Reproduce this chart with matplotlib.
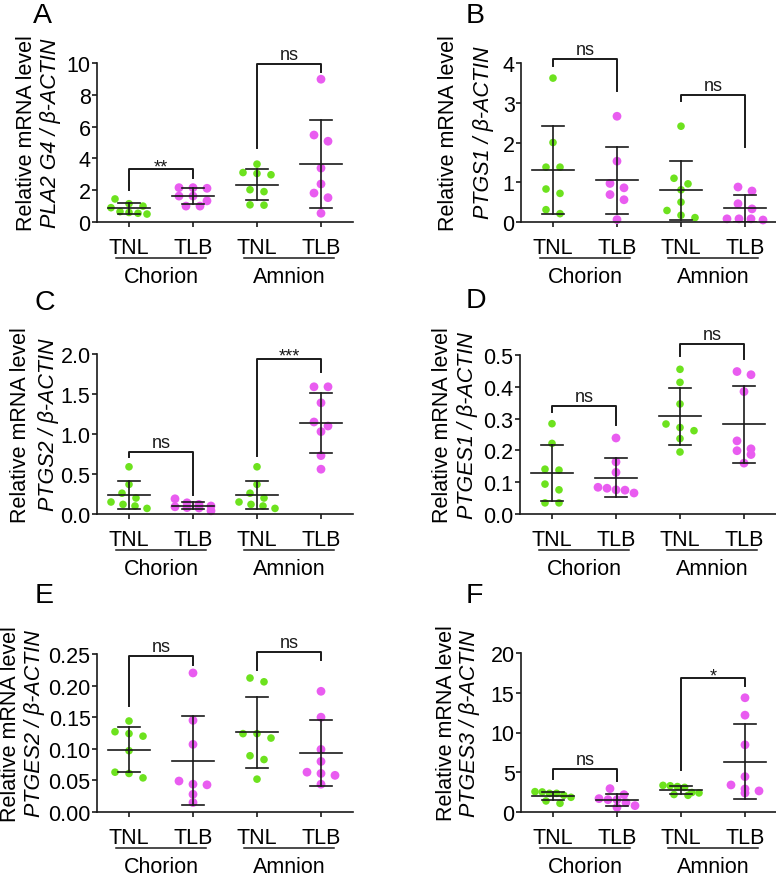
import numpy as np
import matplotlib.pyplot as plt
from matplotlib.ticker import FormatStrFormatter

plt.rcParams['font.family'] = ['Liberation Sans', 'DejaVu Sans']

# categories
groups = ['TNL', 'TLB', 'TNL', 'TLB']
tissues = ['Chorion', 'Amnion']

# A  PLA2G4
pla2g4_ch_tnl = [1.45, 1.15, 1.0, 0.9, 0.65, 0.6, 0.55, 0.5]
pla2g4_ch_tlb = [2.16, 2.16, 2.12, 1.63, 1.63, 1.33, 1.0, 1.0]
pla2g4_am_tnl = [3.64, 3.11, 3.05, 2.97, 2.03, 1.91, 1.08, 1.06]
pla2g4_am_tlb = [8.98, 5.47, 5.08, 3.39, 2.39, 1.82, 1.53, 0.55]

# B  PTGS1
ptgs1_ch_tnl = [3.62, 2.0, 1.38, 1.38, 0.83, 0.72, 0.31, 0.21]
ptgs1_ch_tlb = [2.66, 1.53, 0.97, 0.86, 0.69, 0.56, 0.06]
ptgs1_am_tnl = [2.41, 1.10, 0.96, 0.81, 0.50, 0.29, 0.17, 0.11]
ptgs1_am_tlb = [0.88, 0.78, 0.46, 0.33, 0.08, 0.08, 0.08, 0.05]

# C  PTGS2
ptgs2_ch_tnl = [0.59, 0.37, 0.26, 0.20, 0.15, 0.12, 0.10, 0.07]
ptgs2_ch_tlb = [0.19, 0.14, 0.12, 0.10, 0.09, 0.08, 0.075, 0.04]
ptgs2_am_tnl = [0.59, 0.37, 0.26, 0.20, 0.15, 0.12, 0.10, 0.07]
ptgs2_am_tlb = [1.59, 1.59, 1.39, 1.15, 1.10, 1.03, 0.73, 0.56]

# D  PTGES1
ptges1_ch_tnl = [0.284, 0.222, 0.141, 0.138, 0.094, 0.076, 0.035, 0.035]
ptges1_ch_tlb = [0.239, 0.164, 0.131, 0.084, 0.081, 0.076, 0.075, 0.066]
ptges1_am_tnl = [0.455, 0.414, 0.346, 0.283, 0.272, 0.262, 0.237, 0.195]
ptges1_am_tlb = [0.448, 0.438, 0.385, 0.230, 0.205, 0.199, 0.187, 0.160]

# E  PTGES2
ptges2_ch_tnl = [0.144, 0.127, 0.124, 0.120, 0.097, 0.063, 0.061, 0.054]
ptges2_ch_tlb = [0.220, 0.145, 0.107, 0.049, 0.044, 0.043, 0.028, 0.015]
ptges2_am_tnl = [0.212, 0.206, 0.124, 0.124, 0.117, 0.089, 0.083, 0.052]
ptges2_am_tlb = [0.191, 0.150, 0.099, 0.080, 0.063, 0.061, 0.058, 0.044]

# F  PTGES3
ptges3_ch_tnl = [2.56, 2.52, 2.35, 2.35, 2.10, 1.85, 1.39, 1.09]
ptges3_ch_tlb = [2.94, 2.18, 1.68, 1.55, 1.55, 1.18, 0.80, 0.59]
ptges3_am_tnl = [3.35, 3.30, 3.20, 3.10, 2.45, 2.40, 2.20, 2.10]
ptges3_am_tlb = [14.37, 12.18, 8.45, 4.45, 3.40, 2.90, 2.65, 2.39]

genes = ['PLA2 G4', 'PTGS1', 'PTGS2', 'PTGES1', 'PTGES2', 'PTGES3']
letters = ['A', 'B', 'C', 'D', 'E', 'F']
ymaxes = [10, 4, 2.0, 0.5, 0.25, 20]
ysteps = [2, 1, 0.5, 0.1, 0.05, 5]
yfmts = ['%d', '%d', '%.1f', '%.1f', '%.2f', '%d']

# significance brackets: (x1, x2, top, left leg end, right leg end, label)
brackets = [
    [(0, 1, 3.33, 2.0, 2.75, '**'), (2, 3, 9.96, 4.66, 9.43, 'ns')],
    [(0, 1, 4.1, 3.93, 3.29, 'ns'), (2, 3, 3.19, 3.04, 1.89, 'ns')],
    [(0, 1, 0.78, 0.71, 0.24, 'ns'), (2, 3, 1.94, 0.73, 1.78, '***')],
    [(0, 1, 0.34, 0.322, 0.28, 'ns'), (2, 3, 0.535, 0.497, 0.487, 'ns')],
    [(0, 1, 0.247, 0.167, 0.233, 'ns'), (2, 3, 0.253, 0.224, 0.241, 'ns')],
    [(0, 1, 5.38, 4.1, 3.9, 'ns'), (2, 3, 16.8, 5.25, 15.8, '*')],
]

data = [
    [pla2g4_ch_tnl, pla2g4_ch_tlb, pla2g4_am_tnl, pla2g4_am_tlb],
    [ptgs1_ch_tnl, ptgs1_ch_tlb, ptgs1_am_tnl, ptgs1_am_tlb],
    [ptgs2_ch_tnl, ptgs2_ch_tlb, ptgs2_am_tnl, ptgs2_am_tlb],
    [ptges1_ch_tnl, ptges1_ch_tlb, ptges1_am_tnl, ptges1_am_tlb],
    [ptges2_ch_tnl, ptges2_ch_tlb, ptges2_am_tnl, ptges2_am_tlb],
    [ptges3_ch_tnl, ptges3_ch_tlb, ptges3_am_tnl, ptges3_am_tlb],
]

green = '#6de21e'
magenta = '#e95cf0'
ink = '#1a1a1a'

W, H = 776, 878
fig = plt.figure(figsize=(W / 100, H / 100), dpi=100)

# axes boxes in pixels: left, top, bottom
boxes = [(97, 64, 223), (521, 64, 223), (97, 355, 515),
         (520, 356, 515), (97, 655, 813), (521, 654, 813)]
axw = 256
# y label offsets (px left of axis) for line 1 and line 2
ylab_off = [(70, 46), (72, 38), (76, 48), (78, 53), (86, 62), (74, 51)]
letter_pos = [(33, 23), (466, 23), (35, 310), (466, 308), (35, 603), (466, 603)]


def scatter_rows(vals, ppu, bin_h=8.0, step=14.0, maxw=36.0):
    # prism-like layout: points close in y share a row, spread symmetrically
    vals = np.asarray(vals, dtype=float)
    order = np.argsort(-vals)
    offs = np.zeros(len(vals))
    rows = []
    for i in order:
        if rows and (vals[rows[-1][0]] - vals[i]) * ppu < bin_h:
            rows[-1].append(i)
        else:
            rows.append([i])
    for row in rows:
        n = len(row)
        if n == 1:
            continue
        st = min(step, maxw / (n - 1))
        for j, i in enumerate(row):
            offs[i] = (j - (n - 1) / 2) * st
    return offs


for p in range(6):
    l, t, b = boxes[p]
    ax = fig.add_axes([l / W, 1 - b / H, axw / W, (b - t) / H])
    ax.set_xlim(-0.5, 3.5)
    ax.set_ylim(0, ymaxes[p])
    ppu = (b - t) / ymaxes[p]
    xppu = axw / 4.0

    for g in range(4):
        vals = np.array(data[p][g])
        col = green if g % 2 == 0 else magenta
        sz = 30 if g % 2 == 0 else 40
        dx = scatter_rows(vals, ppu) / xppu
        ax.scatter(g + dx, vals, s=sz, color=col, edgecolors='none',
                   zorder=2, clip_on=False)
        m = vals.mean()
        sd = vals.std(ddof=1)
        ax.plot([g - 0.33, g + 0.33], [m, m], color=ink, lw=1.2, zorder=3)
        ax.plot([g, g], [max(m - sd, 0), m + sd], color=ink, lw=1.2, zorder=3)
        for yy in [m - sd, m + sd]:
            if yy > 0:
                ax.plot([g - 0.17, g + 0.17], [yy, yy], color=ink, lw=1.2, zorder=3)

    for x1, x2, top, yl, yr, lab in brackets[p]:
        ax.plot([x1, x1, x2, x2], [yl, top, top, yr], color=ink, lw=1.4,
                clip_on=False, zorder=3)
        off = 3.5 if lab == 'ns' else -1.5
        ax.annotate(lab, xy=((x1 + x2) / 2, top), xytext=(0, off),
                    textcoords='offset points', ha='center', va='baseline',
                    fontsize=13, color=ink, annotation_clip=False)

    for s in ['top', 'right']:
        ax.spines[s].set_visible(False)
    for s in ['left', 'bottom']:
        ax.spines[s].set_linewidth(1.2)
        ax.spines[s].set_color(ink)
    ax.set_xticks(range(4))
    ax.set_xticklabels(groups)
    ax.set_yticks(np.arange(0, ymaxes[p] + ysteps[p] / 2, ysteps[p]))
    ax.yaxis.set_major_formatter(FormatStrFormatter(yfmts[p]))
    ax.tick_params(axis='both', labelsize=15.5, width=1.2, length=3.6,
                   color=ink, labelcolor='black')
    ax.tick_params(axis='x', pad=7)
    ax.tick_params(axis='y', pad=1)

    # tissue groups below the tick labels
    for k, tis in enumerate(tissues):
        c = 0.5 + 2 * k
        ax.plot([c - 0.7, c + 0.7], [-0.226, -0.226], color=ink, lw=1.1,
                transform=ax.get_xaxis_transform(), clip_on=False)
        ax.text(c, -0.378, tis, ha='center', va='baseline', fontsize=15.5,
                transform=ax.get_xaxis_transform())

    o1, o2 = ylab_off[p]
    ax.text(-o1 / axw, 0.565, 'Relative mRNA level', rotation=90,
            ha='center', va='center', fontsize=15.5, transform=ax.transAxes)
    ax.text(-o2 / axw, 0.565, genes[p] + ' / β-ACTIN', rotation=90,
            ha='center', va='center', fontsize=15.5, style='italic',
            transform=ax.transAxes)

    lx, ly = letter_pos[p]
    fig.text(lx / W, 1 - ly / H, letters[p], fontsize=20.5, ha='left',
             va='baseline')

fig.savefig('out.png', dpi=100)
